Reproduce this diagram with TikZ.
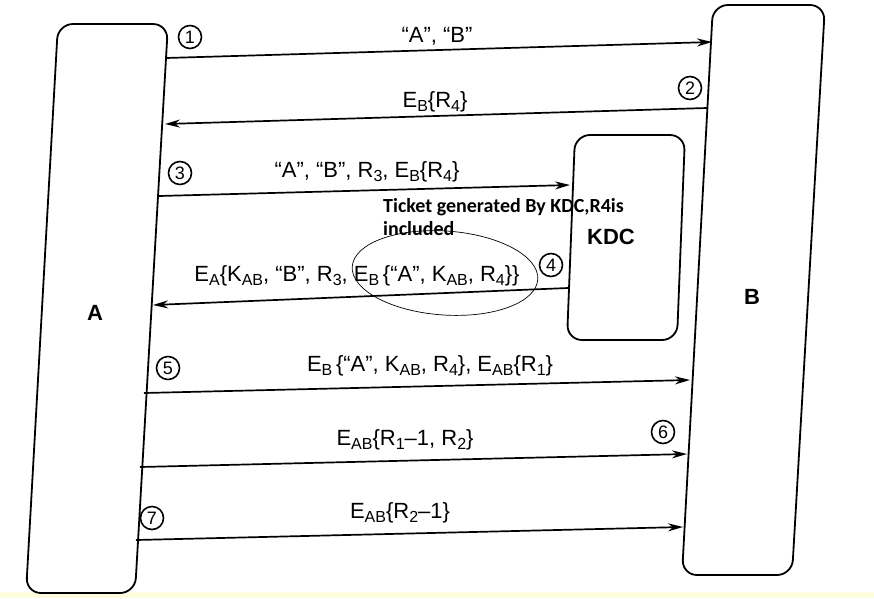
\documentclass[tikz,border=0pt]{standalone}
\usepackage{fontspec}
\setmainfont{Liberation Sans}
\newfontfamily\calib{Carlito}
\usetikzlibrary{arrows.meta}
\newcommand\sbs[1]{\raisebox{-0.35ex}{\fontsize{16}{16}\selectfont #1}}
\tikzset{
  box/.style={draw=black, line width=1.8pt, rounded corners=15pt},
  msg/.style={line width=1.7pt, -{Stealth[length=15pt,width=8pt]}},
  lbl/.style={font=\fontsize{22}{22}\selectfont, inner sep=0pt},
  num/.style={circle, draw, line width=1.6pt, inner sep=0pt, minimum size=23pt, font=\fontsize{18}{18}\selectfont},
  big/.style={font=\bfseries\fontsize{22}{22}\selectfont}
}
\begin{document}
\begin{tikzpicture}[x=1pt,y=-1pt]
\useasboundingbox (0,0) rectangle (874,598);
\fill[white] (0,0) rectangle (874,598);
\fill[yellow!12] (0,592) rectangle (874,598);
% boxes
\draw[box] (58,24) -- (168,24) -- (135,593) -- (26,593) -- cycle;
\draw[box] (713,5) -- (825,5) -- (792,575) -- (682,575) -- cycle;
\draw[box] (575,135) -- (685,135) -- (677,340) -- (567,340) -- cycle;
\node[big] (A) at (95,313) {A};
\node[big] (B) at (752,297) {B};
\node[big] (KDC) at (611,237) {KDC};
% endpoints
\coordinate (a1) at (166,58);   \coordinate (b1) at (712,42);
\coordinate (b2) at (707,108);  \coordinate (a2) at (165,124);
\coordinate (a3) at (159,196);  \coordinate (k3) at (570,185);
\coordinate (k4) at (568,288);  \coordinate (a4) at (153,305);
\coordinate (a5) at (144,393);  \coordinate (b5) at (690,380);
\coordinate (a6) at (140,467);  \coordinate (b6) at (687,454);
\coordinate (a7) at (136,540);  \coordinate (b7) at (683,527);
\draw[msg] (a1) -- (b1);
\draw[msg] (b2) -- (a2);
\draw[msg] (a3) -- (k3);
\draw[msg] (k4) -- (a4);
\draw[msg] (a5) -- (b5);
\draw[msg] (a6) -- (b6);
\draw[msg] (a7) -- (b7);
% labels
\node[lbl] (l1) at (437,36) {“A”, “B”};
\node[lbl] (l2) at (435,102) {E\sbs{B}\{R\sbs{4}\}};
\node[lbl] (l3) at (367,172) {“A”, “B”, R\sbs{3}, E\sbs{B}\{R\sbs{4}\}};
\node[lbl] (l4) at (357,276) {E\sbs{A}\{K\sbs{AB}, “B”, R\sbs{3}, E\sbs{B}\,\{“A”, K\sbs{AB}, R\sbs{4}\}\}};
\node[lbl] (l5) at (430,366) {E\sbs{B}\,\{“A”, K\sbs{AB}, R\sbs{4}\}, E\sbs{AB}\{R\sbs{1}\}};
\node[lbl] (l6) at (405,440) {E\sbs{AB}\{R\sbs{1}–1, R\sbs{2}\}};
\node[lbl] (l7) at (400,513) {E\sbs{AB}\{R\sbs{2}–1\}};
\node[font=\calib\bfseries\fontsize{20}{23}\selectfont, align=left, anchor=base west, inner sep=0pt] (tk) at (383,235) {Ticket generated By KDC,R4is\\included};
\draw[line width=0.7pt, rotate around={-4:(445,273)}] (445,273) ellipse [x radius=93, y radius=42];
% numbers
\node[num] (n1) at (190,37) {1};
\node[num] (n2) at (690,88) {2};
\node[num] (n3) at (180,173) {3};
\node[num] (n4) at (551,265) {4};
\node[num] (n5) at (168,368) {5};
\node[num] (n6) at (663,432) {6};
\node[num] (n7) at (152,518) {7};
\end{tikzpicture}
\end{document}
